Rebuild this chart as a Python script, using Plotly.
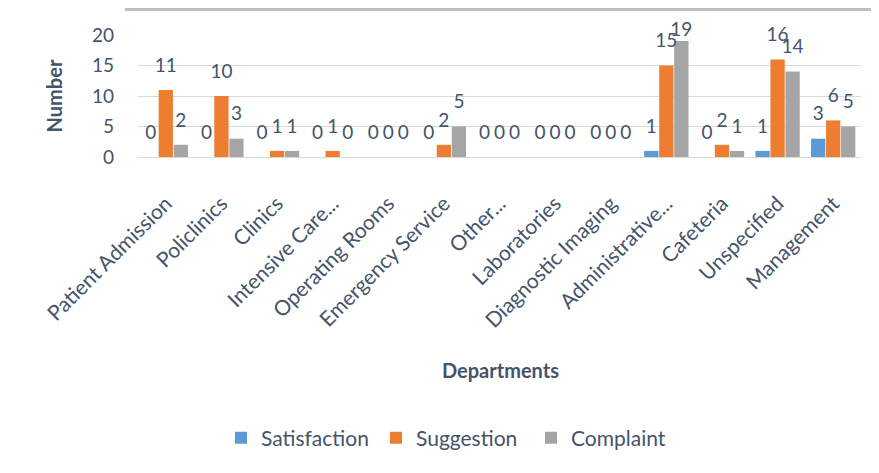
import plotly.graph_objects as go

departments = ["Patient Admission", "Policlinics", "Clinics", "Intensive Care...",
               "Operating Rooms", "Emergency Service", "Other...", "Laboratories",
               "Diagnostic Imaging", "Administrative...", "Cafeteria", "Unspecified",
               "Management"]
satisfaction = [0, 0, 0, 0, 0, 0, 0, 0, 0, 1, 0, 1, 3]
suggestion = [11, 10, 1, 1, 0, 2, 0, 0, 0, 15, 2, 16, 6]
complaint = [2, 3, 1, 0, 0, 5, 0, 0, 0, 19, 1, 14, 5]

FONT = "Lato"
TXT = "#44546A"

series = [("Satisfaction", satisfaction, "#5B9BD5"),
          ("Suggestion", suggestion, "#ED7D31"),
          ("Complaint", complaint, "#A5A5A5")]

fig = go.Figure()
for name, vals, col in series:
    fig.add_trace(go.Bar(
        name=name, x=departments, y=vals, offsetgroup=name,
        marker=dict(color=col, line=dict(width=0)), hoverinfo="x+y+name"))
for name, vals, col in series:
    # labels float above the bars; near the top of the axis they sit closer
    sizes = [20 if v < 18 else 0 for v in vals]
    fig.add_trace(go.Scatter(
        x=departments, y=vals, offsetgroup=name, mode="markers+text",
        text=[str(v) for v in vals], textposition="top center",
        marker=dict(size=sizes, opacity=0, color=col),
        textfont=dict(family=FONT, size=19, color=TXT),
        showlegend=False, hoverinfo="skip", cliponaxis=False))

# page body has an 8px margin; work in screen pixels then convert
OFF = 8
W, H = 879 - OFF, 473 - OFF
L, T = 138 - OFF, 35 - OFF
R = W - (861 - OFF)
B = H - (157 - OFF)
pw, ph = W - L - R, H - T - B

def px(x):
    return (x - OFF - L) / pw

def py(y):
    return (H - B - (y - OFF)) / ph

fig.update_layout(
    width=W, height=H,
    margin=dict(l=L, r=R, t=T, b=B, autoexpand=False),
    paper_bgcolor="white", plot_bgcolor="white",
    barmode="group", bargap=0.19, bargroupgap=0.05,
    scattermode="group", scattergap=0.19,
    font=dict(family=FONT, color=TXT),
    showlegend=True,
    legend=dict(orientation="h", xref="container", yref="container",
                x=(221 - OFF) / W, xanchor="left",
                y=1 - (438 - OFF) / H, yanchor="middle",
                font=dict(family=FONT, size=21, color=TXT),
                itemwidth=30, entrywidth=110, entrywidthmode="pixels",
                traceorder="normal"),
    xaxis=dict(tickangle=-45, tickfont=dict(family=FONT, size=21, color=TXT),
               showgrid=False, showline=True, linecolor="#D9D9D9", linewidth=1,
               ticks="", automargin=False, ticklabelstandoff=25),
    yaxis=dict(range=[0, 20], dtick=5, tickfont=dict(family=FONT, size=19, color=TXT),
               showgrid=True, gridcolor="#D9D9D9", gridwidth=1, zeroline=False,
               ticks="", automargin=False, ticklabelstandoff=23,
               title=dict(text="<b>Number</b>", font=dict(family=FONT, size=20, color=TXT),
                          standoff=23)),
    shapes=[
        dict(type="line", xref="paper", yref="paper", x0=px(7), x1=px(7),
             y0=py(8), y1=py(473), line=dict(color="#D9DEE6", width=2)),
        dict(type="line", xref="paper", yref="paper", x0=px(125), x1=px(879),
             y0=py(OFF + 1), y1=py(OFF + 1), line=dict(color="#BFBFBF", width=4)),
    ],
)

fig.add_annotation(text="<b>Departments</b>", xref="paper", yref="paper",
                   x=px(500), y=py(370), xanchor="center", yanchor="middle",
                   showarrow=False, font=dict(family=FONT, size=20, color=TXT))

fig.write_html("out.html")
